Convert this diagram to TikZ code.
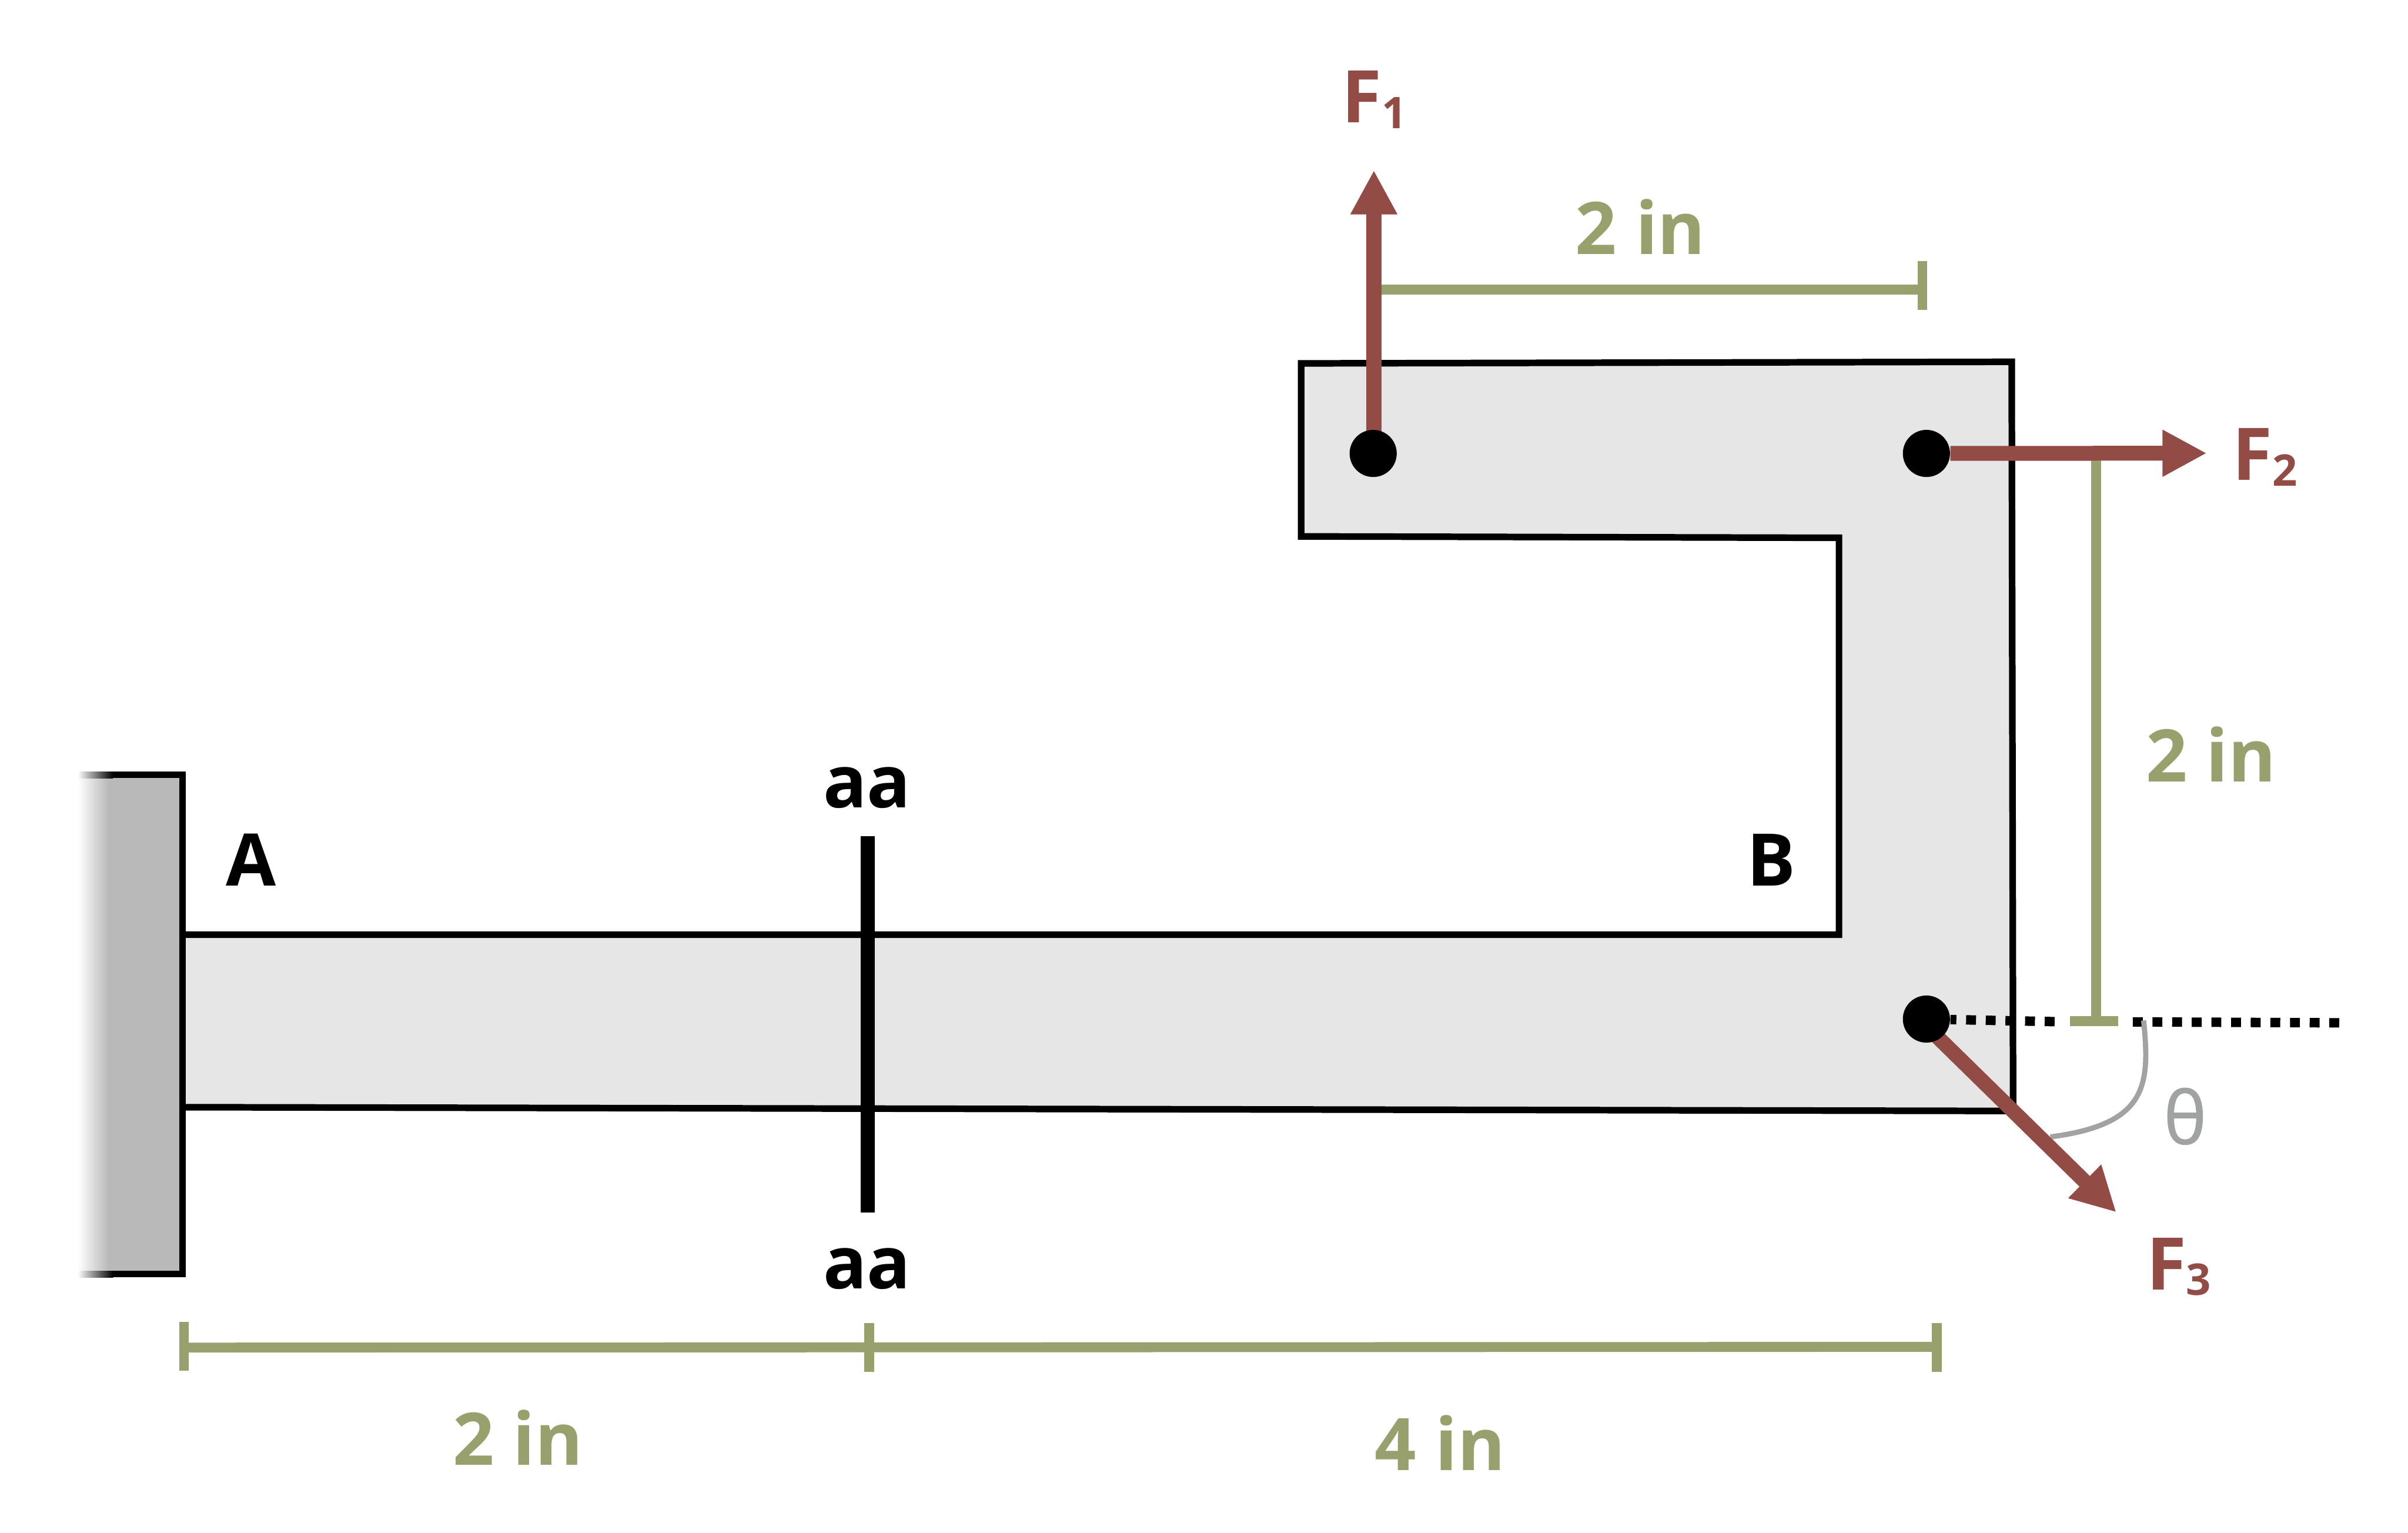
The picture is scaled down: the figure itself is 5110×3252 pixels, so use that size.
\documentclass[tikz,border=0pt]{standalone}
\usepackage{fontspec}
\setmainfont{Open Sans}
\newfontfamily\thetafont{Open Sans}[FakeBold=1]
\usetikzlibrary{arrows.meta,backgrounds}
\definecolor{dimgreen}{HTML}{98A16D}
\definecolor{forcered}{HTML}{934B46}
\definecolor{beamgray}{HTML}{E6E6E6}
\definecolor{wallgray}{HTML}{B9B9B9}
\definecolor{anglegray}{HTML}{A1A3A2}
\newcommand{\FLabel}[1]{F\raisebox{-2.4pt}{\fontsize{18.5pt}{20pt}\selectfont #1}}
\tikzset{
  x=0.2pt,y=-0.2pt,
  beamshape/.style={draw=black,fill=beamgray,line width=2.8pt,miter limit=10},
  dot/.style={circle,fill=black,inner sep=0pt,minimum size=20pt},
  forcearrow/.style={draw=forcered,line width=6.3pt,-{Triangle[length=18.8pt,width=18.6pt]}},
  dimline/.style={draw=dimgreen,line width=4.2pt},
  cutline/.style={draw=black,line width=6.2pt},
  dotline/.style={draw=black,line width=4pt,dash pattern=on 4.2pt off 4.14pt},
  anglearc/.style={draw=anglegray,line width=2.2pt},
  lab/.style={anchor=base west,inner sep=0pt,font=\fontsize{30.8pt}{36pt}\selectfont\bfseries},
  blacklab/.style={lab,text=black},
  dimlab/.style={lab,text=dimgreen},
  forcelab/.style={lab,text=forcered},
  thetalab/.style={anchor=base,inner sep=0pt,text=anglegray,font=\fontsize{30.8pt}{36pt}\selectfont\thetafont},
}
\begin{document}
\begin{tikzpicture}
\useasboundingbox (0,0) rectangle (5110,3252);
% points of application
\node[dot] (d1) at (2914,962) {};
\node[dot] (d2) at (4088,962) {};
\node[dot] (d3) at (4088,2162) {};
% free ends
\coordinate (f1tip) at (2915.5,361);
\coordinate (f1foot) at (2915.5,962);
\coordinate (f2tip) at (4683,961.5);
\coordinate (f3foot) at (4088,2177);
\coordinate (f3tip) at (4491,2572);
\coordinate (dimTop1) at (2915,614.5);
\coordinate (dimTop2) at (4080,614.5);
\coordinate (dimTopU) at (4079.5,554);
\coordinate (dimTopD) at (4079.5,658);
\coordinate (dimRight1) at (4448.5,962);
\coordinate (dimRight2) at (4448.5,2166.5);
\coordinate (tbarL) at (4393,2166.5);
\coordinate (tbarR) at (4495,2166.5);
\coordinate (dimB1) at (390.5,2859);
\coordinate (dimB2) at (1845,2858.5);
\coordinate (dimB3) at (4110,2857.5);
\coordinate (cutTop) at (1841.3,1774);
\coordinate (cutBot) at (1841.3,2573);
\coordinate (dotA) at (4360,2167.5);
\coordinate (dotB) at (4526,2168);
\coordinate (dotC) at (4964,2170);
\coordinate (arcA) at (4549,2165);
\coordinate (arcB) at (4351,2412);
% labels
\node[forcelab] (F1) at (2847,260) {\FLabel{1}};
\node[forcelab] (F2) at (4737,1019) {\FLabel{2}};
\node[forcelab] (F3) at (4554,2736) {\FLabel{3}};
\node[dimlab] (L1) at (3342,540) {2 in};
\node[dimlab] (L2) at (4553,1659) {2 in};
\node[dimlab] (L3) at (960,3108) {2 in};
\node[dimlab] (L4) at (2917,3120) {4 in};
\node[blacklab] (A) at (479,1880) {A};
\node[blacklab] (B) at (3706,1880) {B};
\node[blacklab] (aaT) at (1746,1713) {aa};
\node[blacklab] (aaB) at (1746,2734) {aa};
\node[thetalab] (T) at (4637,2427) {θ};
\begin{pgfonlayer}{background}
% beam
\path[beamshape] (387,1983) -- (3902.5,1983) -- (3902.5,1141) -- (2761,1138) -- (2761,771) -- (4269,767.6) -- (4272,2357) -- (1841,2352) -- (387,2349) -- cycle;
% wall
\shade[left color=white,right color=wallgray] (165,1651) rectangle (230,2696);
\fill[wallgray] (229,1651) rectangle (380,2696);
\shade[left color=white,right color=black] (165,1637) rectangle (240,1651);
\shade[left color=white,right color=black] (165,2696) rectangle (240,2710);
\fill[black] (239,1637) rectangle (394,1651);
\fill[black] (239,2696) rectangle (394,2710);
\fill[black] (380,1637) rectangle (394,2710);
% section cut
\path[cutline] (cutTop) -- (cutBot);
% dotted reference line
\path[dotline] (dotA) -- (d3);
\path[dotline] (dotB) -- (dotC);
% angle
\path[anglearc] (arcA) .. controls (4562,2300) and (4560,2385) .. (arcB);
% dimensions
\path[dimline] (dimTop1) -- (dimTop2);
\path[dimline] (dimTopU) -- (dimTopD);
\path[dimline] (dimRight1) -- (dimRight2);
\path[dimline] (tbarL) -- (tbarR);
\path[dimline] (dimB1) -- (dimB2) -- (dimB3);
\path[dimline] (390.5,2804) -- (390.5,2908);
\path[dimline] (1845,2807) -- (1845,2911);
\path[dimline] (4110,2807) -- (4110,2911);
% forces
\path[forcearrow] (f1foot) -- (f1tip);
\path[forcearrow] (d2) -- (f2tip);
\path[forcearrow] (f3foot) -- (f3tip);
\end{pgfonlayer}
\end{tikzpicture}
\end{document}
